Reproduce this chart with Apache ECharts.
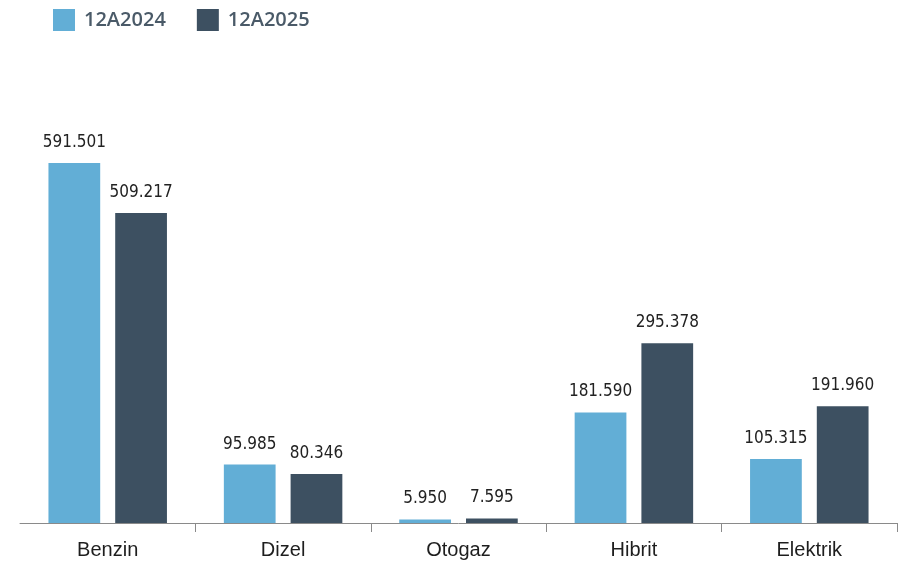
<!DOCTYPE html>
<html><head><meta charset="utf-8">
<script src="https://cdn.jsdelivr.net/npm/echarts@6/dist/echarts.min.js"></script>
<style>html,body{margin:0;padding:0;background:#fff}#c{width:907px;height:567px}</style>
</head><body><div id="c"></div>
<script>
const categories = ["Benzin", "Dizel", "Otogaz", "Hibrit", "Elektrik"];
const seriesNames = ["12A2024", "12A2025"];
const values2024 = [591501, 95985, 5950, 181590, 105315];
const values2025 = [509217, 80346, 7595, 295378, 191960];

function fmt(v){ return String(v).replace(/\B(?=(\d{3})+(?!\d))/g, "."); }
const labelFont = '"DejaVu Sans Condensed", "Liberation Sans Narrow", sans-serif';
const chart = echarts.init(document.getElementById('c'), null, {renderer:'canvas'});
chart.setOption({
  animation:false,
  backgroundColor:'#fff',
  color:['#62aed6','#3d5061'],
  legend:{left:48, top:4, icon:'rect', itemWidth:22, itemHeight:22, itemGap:31,
    textStyle:{color:'#4a5a68', fontSize:20, fontWeight:600, fontFamily:'"Open Sans", sans-serif', padding:[0,0,0,4]},
    data:seriesNames},
  grid:{left:20, right:10, top:97, bottom:44},
  xAxis:{type:'category', data:categories,
    axisLine:{lineStyle:{color:'#8a8a8a', width:1}},
    axisTick:{show:true, length:9, interval:function(i){return i>0 && i<categories.length;}, lineStyle:{color:'#8a8a8a'}},
    axisLabel:{color:'#1e1e1e', fontSize:20, margin:17, fontFamily:'"Liberation Sans", sans-serif'}},
  yAxis:{type:'value', min:0, max:700000, show:false, splitLine:{show:false}},
  series:[
    {name:seriesNames[0], type:'bar', data:values2024, barWidth:'29.5%', barGap:'29%',
     label:{show:true, position:'top', distance:12, color:'#222', fontSize:17, fontFamily:labelFont, formatter:p=>fmt(p.value)}},
    {name:seriesNames[1], type:'bar', data:values2025, barWidth:'29.5%', barGap:'29%',
     label:{show:true, position:'top', distance:12, color:'#222', fontSize:17, fontFamily:labelFont, formatter:p=>fmt(p.value)}}
  ]
});
</script></body></html>
